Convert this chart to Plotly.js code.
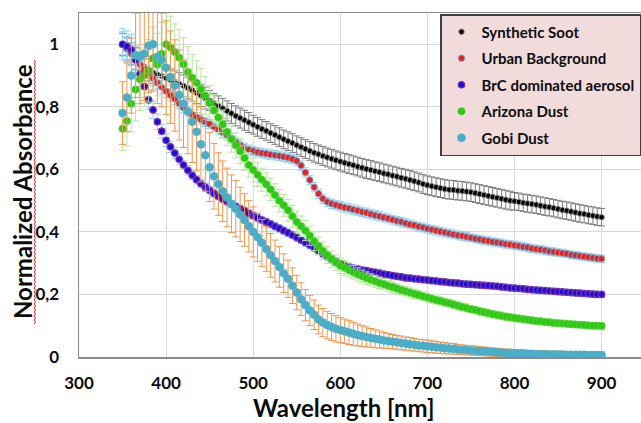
<!DOCTYPE html>
<html>
<head>
<meta charset="utf-8">
<script src="https://cdn.plot.ly/plotly-3.0.1.min.js"></script>
<style>html,body{margin:0;padding:0;background:#fff;}#chart{width:641px;height:423px;}</style>
</head>
<body>
<div id="chart"></div>
<script>
const wavelength = [
350,355,360,365,370,375,380,385,390,395,
400,405,410,415,420,425,430,435,440,445,
450,455,460,465,470,475,480,485,490,495,
500,505,510,515,520,525,530,535,540,545,
550,555,560,565,570,575,580,585,590,595,
600,605,610,615,620,625,630,635,640,645,
650,655,660,665,670,675,680,685,690,695,
700,705,710,715,720,725,730,735,740,745,
750,755,760,765,770,775,780,785,790,795,
800,805,810,815,820,825,830,835,840,845,
850,855,860,865,870,875,880,885,890,895,
900];

const sootValues = [
1.000,0.985,0.970,0.955,0.940,0.928,0.918,0.910,0.903,0.898,
0.892,0.886,0.880,0.874,0.867,0.860,0.853,0.845,0.836,0.828,
0.820,0.811,0.803,0.795,0.787,0.779,0.771,0.764,0.757,0.750,
0.743,0.736,0.729,0.723,0.716,0.710,0.703,0.696,0.690,0.684,
0.677,0.671,0.665,0.659,0.653,0.648,0.643,0.638,0.634,0.629,
0.625,0.621,0.617,0.613,0.609,0.605,0.601,0.598,0.594,0.591,
0.587,0.584,0.580,0.577,0.573,0.570,0.566,0.562,0.558,0.553,
0.549,0.546,0.543,0.540,0.537,0.535,0.534,0.532,0.531,0.529,
0.527,0.524,0.521,0.518,0.515,0.512,0.509,0.506,0.503,0.500,
0.498,0.496,0.493,0.491,0.489,0.487,0.484,0.481,0.479,0.476,
0.473,0.470,0.468,0.465,0.462,0.459,0.457,0.454,0.452,0.449,
0.447];
const sootErr = [
0.035,0.035,0.035,0.035,0.035,0.035,0.035,0.035,0.035,0.035,
0.035,0.035,0.035,0.035,0.035,0.035,0.035,0.035,0.035,0.035,
0.032,0.032,0.032,0.032,0.032,0.032,0.032,0.032,0.032,0.032,
0.030,0.030,0.030,0.030,0.030,0.030,0.030,0.030,0.030,0.030,
0.030,0.030,0.030,0.030,0.030,0.030,0.030,0.030,0.030,0.030,
0.030,0.030,0.030,0.030,0.030,0.030,0.030,0.030,0.030,0.030,
0.030,0.030,0.030,0.030,0.030,0.030,0.030,0.030,0.030,0.030,
0.030,0.030,0.030,0.030,0.030,0.030,0.030,0.030,0.030,0.030,
0.030,0.030,0.030,0.030,0.030,0.030,0.030,0.030,0.030,0.030,
0.028,0.028,0.028,0.028,0.028,0.028,0.028,0.028,0.028,0.028,
0.028,0.028,0.028,0.028,0.028,0.028,0.028,0.028,0.028,0.028,
0.028];

const urbanValues = [
1.000,0.985,0.970,0.952,0.935,0.921,0.906,0.892,0.877,0.863,
0.850,0.837,0.825,0.811,0.797,0.786,0.775,0.767,0.759,0.752,
0.745,0.736,0.727,0.718,0.709,0.699,0.688,0.678,0.669,0.663,
0.659,0.655,0.652,0.650,0.647,0.645,0.643,0.640,0.637,0.633,
0.627,0.612,0.590,0.566,0.543,0.522,0.506,0.496,0.490,0.486,
0.482,0.478,0.475,0.471,0.468,0.464,0.461,0.457,0.453,0.450,
0.446,0.443,0.439,0.435,0.432,0.428,0.424,0.421,0.417,0.414,
0.410,0.407,0.404,0.401,0.398,0.395,0.392,0.389,0.387,0.384,
0.381,0.378,0.376,0.373,0.371,0.368,0.366,0.364,0.361,0.359,
0.357,0.355,0.352,0.350,0.347,0.345,0.343,0.341,0.338,0.336,
0.334,0.332,0.330,0.327,0.325,0.323,0.321,0.319,0.317,0.315,
0.314];
const urbanErr = [
0.040,0.040,0.035,0.035,0.030,0.030,0.025,0.025,0.020,0.020,
0.020,0.018,0.018,0.016,0.016,0.015,0.015,0.015,0.015,0.015,
0.015,0.015,0.015,0.015,0.015,0.015,0.015,0.015,0.015,0.015,
0.015,0.015,0.015,0.015,0.015,0.015,0.015,0.015,0.015,0.015,
0.015,0.015,0.015,0.015,0.015,0.015,0.015,0.015,0.015,0.015,
0.015,0.015,0.015,0.015,0.015,0.015,0.015,0.015,0.015,0.015,
0.014,0.014,0.014,0.014,0.014,0.014,0.014,0.014,0.014,0.014,
0.014,0.014,0.014,0.014,0.014,0.014,0.014,0.014,0.014,0.014,
0.013,0.013,0.013,0.013,0.013,0.013,0.013,0.013,0.013,0.013,
0.013,0.013,0.013,0.013,0.013,0.013,0.013,0.013,0.013,0.013,
0.012,0.012,0.012,0.012,0.012,0.012,0.012,0.012,0.012,0.012,
0.012];

const brcValues = [
1.000,0.993,0.982,0.950,0.905,0.865,0.822,0.790,0.752,0.722,
0.693,0.672,0.652,0.632,0.614,0.597,0.581,0.567,0.554,0.543,
0.533,0.523,0.514,0.505,0.497,0.489,0.481,0.474,0.467,0.459,
0.452,0.445,0.438,0.432,0.425,0.418,0.411,0.404,0.397,0.390,
0.382,0.374,0.366,0.358,0.349,0.340,0.330,0.321,0.313,0.305,
0.298,0.293,0.288,0.284,0.281,0.278,0.276,0.273,0.271,0.268,
0.265,0.263,0.260,0.258,0.256,0.253,0.252,0.250,0.249,0.247,
0.246,0.244,0.243,0.241,0.240,0.238,0.237,0.236,0.234,0.233,
0.232,0.231,0.230,0.229,0.228,0.227,0.226,0.224,0.223,0.221,
0.220,0.219,0.218,0.216,0.215,0.214,0.213,0.212,0.211,0.210,
0.209,0.208,0.207,0.206,0.205,0.204,0.203,0.202,0.201,0.200,
0.200];
const brcErr = [
0.050,0.050,0.050,0.045,0.040,0.035,0.030,0.028,0.025,0.022,
0.020,0.018,0.017,0.016,0.015,0.015,0.014,0.014,0.013,0.013,
0.012,0.012,0.012,0.012,0.012,0.012,0.012,0.012,0.012,0.012,
0.012,0.012,0.012,0.012,0.012,0.012,0.012,0.012,0.012,0.012,
0.012,0.012,0.012,0.012,0.012,0.012,0.012,0.012,0.012,0.012,
0.012,0.010,0.010,0.010,0.010,0.010,0.010,0.010,0.010,0.010,
0.010,0.010,0.010,0.010,0.010,0.010,0.010,0.010,0.010,0.010,
0.010,0.010,0.010,0.010,0.010,0.010,0.010,0.010,0.010,0.010,
0.010,0.010,0.010,0.010,0.010,0.010,0.010,0.010,0.010,0.010,
0.010,0.010,0.010,0.010,0.010,0.010,0.010,0.010,0.010,0.010,
0.010,0.010,0.010,0.010,0.010,0.010,0.010,0.010,0.010,0.010,
0.010];

const arizonaValues = [
0.730,0.755,0.810,0.855,0.888,0.900,0.915,0.955,0.935,0.970,
1.000,0.990,0.975,0.958,0.936,0.912,0.893,0.877,0.857,0.836,
0.812,0.789,0.766,0.744,0.720,0.697,0.677,0.658,0.636,0.614,
0.598,0.583,0.567,0.552,0.536,0.518,0.500,0.485,0.469,0.450,
0.432,0.418,0.404,0.388,0.370,0.355,0.340,0.326,0.313,0.302,
0.292,0.285,0.278,0.271,0.264,0.258,0.252,0.247,0.242,0.237,
0.233,0.228,0.224,0.219,0.214,0.210,0.206,0.202,0.198,0.194,
0.190,0.186,0.182,0.179,0.175,0.172,0.168,0.164,0.160,0.157,
0.153,0.150,0.146,0.143,0.140,0.137,0.134,0.132,0.129,0.127,
0.125,0.123,0.121,0.119,0.117,0.115,0.114,0.112,0.111,0.109,
0.108,0.107,0.106,0.105,0.104,0.103,0.102,0.101,0.100,0.100,
0.099];
const arizonaErr = [
0.070,0.080,0.090,0.100,0.100,0.100,0.100,0.100,0.100,0.100,
0.100,0.100,0.090,0.090,0.085,0.080,0.075,0.070,0.065,0.060,
0.055,0.050,0.048,0.046,0.044,0.042,0.040,0.040,0.039,0.039,
0.038,0.038,0.037,0.037,0.036,0.036,0.036,0.035,0.035,0.035,
0.035,0.033,0.032,0.031,0.030,0.029,0.028,0.027,0.026,0.025,
0.025,0.024,0.023,0.022,0.021,0.020,0.020,0.019,0.019,0.018,
0.018,0.017,0.017,0.016,0.016,0.015,0.015,0.015,0.014,0.014,
0.014,0.014,0.013,0.013,0.013,0.013,0.013,0.013,0.013,0.013,
0.012,0.012,0.012,0.012,0.012,0.012,0.012,0.012,0.012,0.012,
0.012,0.011,0.011,0.011,0.011,0.011,0.011,0.011,0.011,0.011,
0.010,0.010,0.010,0.010,0.010,0.010,0.010,0.010,0.010,0.010,
0.010];

const gobiValues = [
0.780,0.830,0.900,0.965,0.960,0.970,0.995,1.000,0.960,0.950,
0.925,0.895,0.868,0.838,0.810,0.785,0.752,0.720,0.680,0.645,
0.607,0.578,0.553,0.530,0.510,0.490,0.474,0.456,0.438,0.418,
0.400,0.383,0.365,0.345,0.325,0.307,0.288,0.268,0.250,0.228,
0.206,0.185,0.166,0.149,0.135,0.120,0.110,0.102,0.096,0.090,
0.086,0.082,0.078,0.074,0.070,0.067,0.064,0.061,0.058,0.056,
0.053,0.051,0.049,0.047,0.045,0.043,0.041,0.039,0.037,0.036,
0.034,0.033,0.031,0.030,0.028,0.027,0.026,0.024,0.023,0.022,
0.021,0.020,0.019,0.018,0.017,0.016,0.015,0.014,0.013,0.013,
0.012,0.011,0.011,0.010,0.010,0.009,0.009,0.009,0.008,0.008,
0.008,0.008,0.007,0.007,0.007,0.007,0.007,0.006,0.006,0.006,
0.006];
const gobiErr = [
0.100,0.110,0.120,0.135,0.150,0.150,0.150,0.150,0.150,0.150,
0.150,0.148,0.146,0.144,0.140,0.135,0.130,0.125,0.120,0.115,
0.110,0.105,0.100,0.097,0.094,0.092,0.090,0.087,0.084,0.082,
0.080,0.077,0.075,0.072,0.070,0.067,0.065,0.062,0.060,0.057,
0.055,0.052,0.050,0.048,0.047,0.046,0.045,0.044,0.043,0.042,
0.040,0.039,0.038,0.037,0.035,0.033,0.032,0.030,0.029,0.027,
0.025,0.024,0.023,0.022,0.022,0.021,0.021,0.020,0.020,0.020,
0.020,0.019,0.019,0.018,0.018,0.017,0.017,0.016,0.016,0.015,
0.015,0.015,0.014,0.014,0.014,0.013,0.013,0.013,0.012,0.012,
0.012,0.012,0.012,0.011,0.011,0.011,0.011,0.011,0.011,0.011,
0.010,0.010,0.010,0.010,0.010,0.010,0.010,0.010,0.010,0.010,
0.010];

const seriesNames = ['Synthetic Soot','Urban Background','BrC dominated aerosol','Arizona Dust','Gobi Dust'];
const xTickVals = [300,400,500,600,700,800,900];
const xTickText = ['300','400','500','600','700','800','900'];
const yTickVals = [0,0.2,0.4,0.6,0.8,1];
const yTickText = ['0','0,2','0,4','0,6','0,8','1'];

const FONT = 'Lato, "Open Sans", sans-serif';

const styles = [
  {fill:'#000000', line:'#8c8c8c', lw:1, size:5.5, err:'#7a7a7a'},
  {fill:'#e8211c', line:'#6fa8dc', lw:1, size:6.5, err:'#8fd3ef'},
  {fill:'#1a0bd8', line:'#8033a8', lw:1.2, size:6.5, err:'#8fd3ef'},
  {fill:'#2fc814', line:'#63d94a', lw:0.5, size:7.5, err:'#b8e69c'},
  {fill:'#4aaec9', line:'#4aaec9', lw:0.5, size:8, err:'#f6944a'}
];
const yData = [sootValues, urbanValues, brcValues, arizonaValues, gobiValues];
const eData = [sootErr, urbanErr, brcErr, arizonaErr, gobiErr];

const traces = seriesNames.map((name, i) => ({
  type:'scatter', mode:'markers', name:name, legendgroup:'g'+i,
  x: wavelength, y: yData[i],
  marker:{color:styles[i].fill, size:styles[i].size, line:{color:styles[i].line, width:styles[i].lw}},
  error_y:{type:'data', array:eData[i], visible:true, color:styles[i].err, thickness:1, width:3.5},
  cliponaxis:true
}));

// plot area geometry in px
const L = 79, R = 0, T = 13, B = 66, W = 641, H = 423;
const pw = W - L - R, ph = H - T - B;
function px2paperX(p){ return (p - L) / pw; }
function px2paperY(p){ return (H - B - p) / ph; }

const layout = {
  width: W, height: H,
  margin:{l:L, r:R, t:T, b:B, pad:0},
  paper_bgcolor:'#ffffff', plot_bgcolor:'#ffffff',
  separators:', ',
  font:{family:FONT, color:'#000000'},
  showlegend:true,
  legend:{
    x: px2paperX(440), y: px2paperY(14), xanchor:'left', yanchor:'top',
    bgcolor:'#f2dcdb', bordercolor:'#3f3f3f', borderwidth:1.5,
    font:{family:FONT, size:15, color:'#0d0d0d', weight:'bold'},
    tracegroupgap:4, traceorder:'grouped', itemsizing:'trace'
  },
  xaxis:{
    range:[300, 300 + pw/0.871], tickvals:xTickVals, ticktext:xTickText,
    showgrid:true, gridcolor:'#d9d9d9', gridwidth:1,
    showline:true, linecolor:'#8a8a8a', linewidth:1.5, mirror:true,
    zeroline:false, ticks:'', ticklabelstandoff:10,
    tickfont:{family:FONT, size:17, color:'#0d0d0d', weight:'bold'}
  },
  yaxis:{
    range:[0, 1.1], tickvals:yTickVals, ticktext:yTickText,
    showgrid:true, gridcolor:'#d9d9d9', gridwidth:1,
    showline:true, linecolor:'#8a8a8a', linewidth:1.5,
    zeroline:false, ticks:'', ticklabelstandoff:15,
    tickfont:{family:FONT, size:17, color:'#0d0d0d', weight:'bold'}
  },
  annotations:[
    {text:'Wavelength [nm]', xref:'paper', yref:'paper', x:px2paperX(343), y:px2paperY(407),
     xanchor:'center', yanchor:'middle', showarrow:false,
     font:{family:FONT, size:24, color:'#0d0d0d', weight:'bold'}},
    {text:'Normalized Absorbance', xref:'paper', yref:'paper', x:px2paperX(22), y:px2paperY(192),
     xanchor:'center', yanchor:'middle', showarrow:false, textangle:-90,
     font:{family:FONT, size:24, color:'#0d0d0d', weight:'bold'}}
  ],
  shapes:[
    {type:'path', xref:'paper', yref:'paper', layer:'above',
     path:'', line:{color:'#e02020', width:1}}
  ]
};
// decorative spell-check squiggle beside the y title
(function(){
  const x0 = 34, y0 = 324, y1 = 60;
  let d = 'M ' + px2paperX(x0) + ',' + px2paperY(y0);
  let k = 0;
  for (let y = y0; y > y1; y -= 2){ k++; d += ' L ' + px2paperX(x0 + (k % 2 ? 1.5 : 0)) + ',' + px2paperY(y - 2); }
  layout.shapes[0].path = d;
})();

Plotly.newPlot('chart', traces, layout, {displayModeBar:false, staticPlot:true});
</script>
</body>
</html>
